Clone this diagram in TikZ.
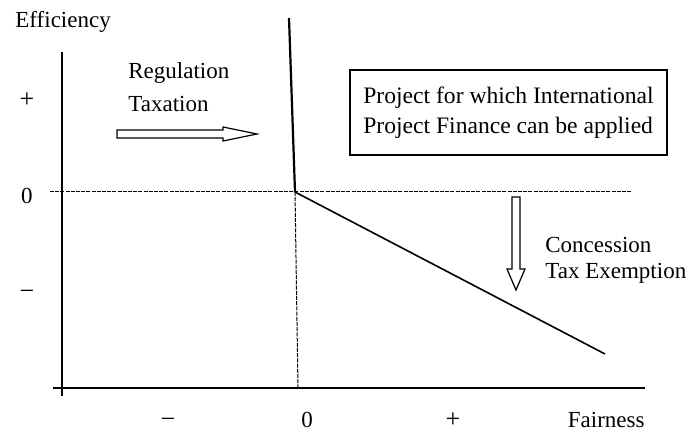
\documentclass[tikz,border=0pt]{standalone}
\usepackage{fontspec}
\setmainfont{Liberation Serif}
\usepackage{tikz}
\usetikzlibrary{positioning, calc}

\begin{document}
\begin{tikzpicture}[
  x=0.5pt,y=-0.5pt,
  font=\fontsize{11.5}{14}\selectfont,
  axis/.style={line width=0.9pt,black},
  guide/.style={dashed,dash pattern=on 2pt off 0.6pt,line width=0.5pt},
  curve/.style={line width=0.8pt},
  blockarr/.style={draw,line width=0.6pt,fill=white},
  lbl/.style={inner sep=0pt,anchor=west},
  sgn/.style={font=\fontsize{13}{14}\selectfont}
]
  \useasboundingbox (0,0) rectangle (691,437);
  % axes
  \coordinate (ytop) at (62,52);
  \coordinate (ybot) at (62,396);
  \coordinate (xleft) at (53,388);
  \coordinate (xright) at (645,388);
  \draw[axis] (ytop)--(ybot);
  \draw[axis] (xleft)--(xright);
  % origin and guides
  \coordinate (orig) at (295,192);
  \coordinate (top) at (289,18);
  \coordinate (gl) at (50,192);
  \coordinate (gr) at (632,192);
  \coordinate (gb) at (298,388);
  \coordinate (tail) at (605,354);
  \draw[guide] (gl)--(gr);
  \draw[guide] (orig)--(gb);
  \draw[line width=1.1pt] (top)--(orig);
  \draw[curve] (orig)--(tail);
  % axis labels
  \node[lbl] (eff) at (15,22) {Efficiency};
  \node[anchor=base east,inner sep=0pt] (fair) at (645,428) {Fairness};
  \node (yz) at (27,196) {0};
  \foreach \n/\y/\t in {yp/100/+,ym/295/−}
    \node[sgn] (\n) at (27,\y) {\t};
  \node[anchor=base,inner sep=0pt] (xz) at (307,428) {0};
  \foreach \n/\x/\t in {xm/168/−,xp/453/+}
    \node[sgn,anchor=base,inner sep=0pt] (\n) at (\x,428) {\t};
  % regulation arrow
  \node[lbl] (reg) at (128,73) {Regulation};
  \node[lbl] (tax) at (128,104) {Taxation};
  \draw[blockarr] (117,130)--(223,130)--(223,127)--(257,134)--(223,141)
    --(223,138)--(117,138)--cycle;
  % box
  \node[draw,line width=0.7pt,align=left,
        minimum width=158.5pt,minimum height=42.5pt,
        font=\fontsize{11.8}{15}\selectfont] (proj) at (508.5,112.5)
    {Project for which International\\Project Finance can be applied};
  % concession arrow
  \draw[blockarr] (512,197)--(520,197)--(520,269)--(525,269)--(516,290)
    --(507,269)--(512,269)--cycle;
  \node[lbl] (conc) at (545,245) {Concession};
  \node[lbl] (taxe) at (545,273) {Tax Exemption};
\end{tikzpicture}
\end{document}
